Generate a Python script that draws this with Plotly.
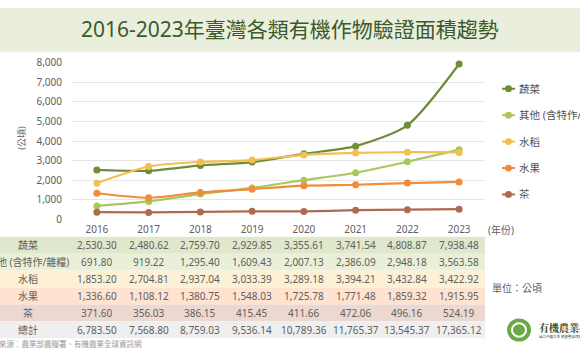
import plotly.graph_objects as go

years = [2016, 2017, 2018, 2019, 2020, 2021, 2022, 2023]
series_names = ["蔬菜", "其他 (含特作/雜糧)", "水稻", "水果", "茶"]
veg = [2530.30, 2480.62, 2759.70, 2929.85, 3355.61, 3741.54, 4808.87, 7938.48]
other = [691.80, 919.22, 1295.40, 1609.43, 2007.13, 2386.09, 2948.18, 3563.58]
rice = [1853.20, 2704.81, 2937.04, 3033.39, 3289.18, 3394.21, 3432.84, 3422.92]
fruit = [1336.60, 1108.12, 1380.75, 1548.03, 1725.78, 1771.48, 1859.32, 1915.95]
tea = [371.60, 356.03, 386.15, 415.45, 411.66, 472.06, 496.16, 524.19]
total = [6783.50, 7568.80, 8759.03, 9536.14, 10789.36, 11765.37, 13545.37, 17365.12]
y_ticks = [0, 1000, 2000, 3000, 4000, 5000, 6000, 7000, 8000]

series_values = [veg, other, rice, fruit, tea]
line_colors = ["#6f8c36", "#a9c75c", "#f1c04f", "#f28c3a", "#b06a52"]
row_labels = series_names + ["總計"]
row_values = series_values + [total]
row_bg = ["#dfe7cc", "#eaf0d8", "#fcf1d7", "#fde3d0", "#edd8d1", "#efefef"]

W, H = 580, 360
def px(x): return x / W
def py(y): return 1 - y / H

FONT = "Noto Sans, Noto Sans CJK TC, sans-serif"
GRAY = "#606060"

fig = go.Figure()
for name, vals, col in zip(series_names, series_values, line_colors):
    fig.add_trace(go.Scatter(
        x=years, y=vals, name=name, mode="lines+markers",
        line=dict(color=col, width=2.2, shape="spline", smoothing=0.7),
        marker=dict(color=col, size=7), cliponaxis=False, showlegend=False))

shapes = []
annotations = []

def text(t, x, y, size, color=GRAY, xanchor="center", xref="paper", family=FONT, **kw):
    annotations.append(dict(text=t, x=x, y=py(y), xref=xref, yref="paper", showarrow=False,
                            xanchor=xanchor, yanchor="middle",
                            font=dict(size=size, color=color, family=family), **kw))

# title band
shapes.append(dict(type="rect", xref="paper", yref="paper", x0=0, x1=1,
                   y0=py(46), y1=1, fillcolor="#e9efdc", line=dict(width=0), layer="below"))
text("2016-2023年臺灣各類有機作物驗證面積趨勢", 0.5, 22, 21, color="#3a5a2c")

# table rows
row_top = 238
row_h = 17.6
for i, (lab, vals, bg) in enumerate(zip(row_labels, row_values, row_bg)):
    y0 = row_top + i * row_h
    yc = y0 + row_h / 2
    shapes.append(dict(type="rect", xref="paper", yref="paper", x0=0, x1=px(485),
                       y0=py(y0 + row_h), y1=py(y0), fillcolor=bg, line=dict(width=0), layer="below"))
    text(lab, px(28), yc, 10)
    for yr, v in zip(years, vals):
        text(f"{v:,.2f}", yr, yc, 10, xref="x")

# legend (manual)
leg_y = [84, 111.5, 139, 166.5, 194]
for name, col, ly in zip(series_names, line_colors, leg_y):
    shapes.append(dict(type="line", xref="paper", yref="paper", x0=px(502), x1=px(515),
                       y0=py(ly), y1=py(ly), line=dict(color=col, width=2)))
    shapes.append(dict(type="circle", xref="paper", yref="paper", x0=px(505), x1=px(512),
                       y0=py(ly + 3.5), y1=py(ly - 3.5), fillcolor=col, line=dict(width=0)))
    text(name, px(517), ly, 10.5, color="#505050", xanchor="left")

# axis title and unit labels
text("(公頃)", px(22), 135, 9, textangle=-90)
text("(年份)", px(486), 231, 10, xanchor="left")
text("單位：公頃", px(490), 291, 10, xanchor="left")
text("資料來源：農業部農糧署、有機農業全球資訊網", px(144), 350, 7.5, color="#9a9a9a", xanchor="right")

# logo
shapes.append(dict(type="circle", xref="paper", yref="paper", x0=px(507), x1=px(531),
                   y0=py(347), y1=py(323), fillcolor="#6aa845", line=dict(width=0)))
shapes.append(dict(type="circle", xref="paper", yref="paper", x0=px(512), x1=px(526),
                   y0=py(342), y1=py(328), fillcolor="rgba(0,0,0,0)", line=dict(color="white", width=2)))
text("<b>有機農業推廣中心</b>", px(537), 332, 10, color="#2f4a2a", xanchor="left",
     family="Noto Serif CJK TC, Noto Sans CJK TC")
text("國立中興大學 農業暨自然資源學院", px(537), 342, 3.5, color="#2f4a2a", xanchor="left")

fig.update_layout(
    width=W, height=H, margin=dict(l=0, r=0, t=0, b=0),
    paper_bgcolor="white", plot_bgcolor="white",
    font=dict(family=FONT, color=GRAY),
    shapes=shapes, annotations=annotations,
    xaxis=dict(domain=[px(71), px(485)], range=[2015.5, 2023.5], tickvals=years,
               ticktext=[str(y) for y in years], showgrid=False, zeroline=False,
               showline=False, ticks="", tickfont=dict(size=10, color=GRAY),
               ticklabelstandoff=3, fixedrange=True),
    yaxis=dict(domain=[py(220), py(57)], range=[0, 8000], tickvals=y_ticks,
               tickformat=",d", showgrid=True, gridcolor="#e6e6e6", gridwidth=1,
               zeroline=False, showline=False, ticks="", tickfont=dict(size=10, color=GRAY),
               ticklabelstandoff=8, fixedrange=True),
)

fig.write_html("out.html", config={"displayModeBar": False},
               post_script="document.body.style.margin='0';document.body.style.overflow='hidden';")
